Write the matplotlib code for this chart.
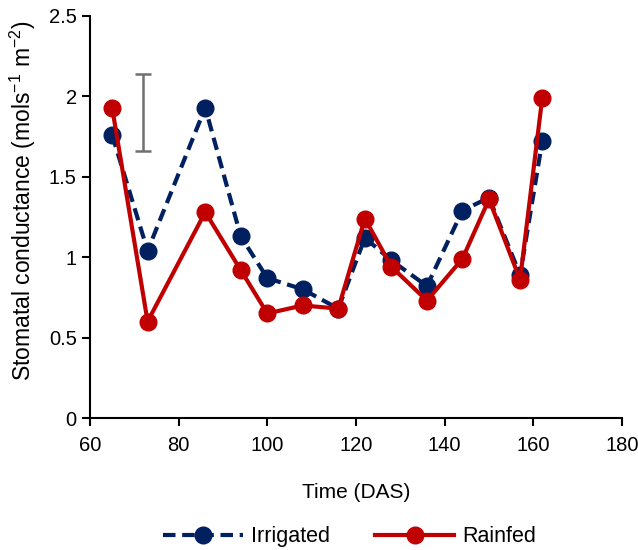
import matplotlib
matplotlib.use("Agg")
import matplotlib.pyplot as plt

plt.rcParams['font.family'] = ['Liberation Sans', 'DejaVu Sans']
plt.rcParams['mathtext.fontset'] = 'custom'
plt.rcParams['mathtext.rm'] = 'Liberation Sans'
plt.rcParams['mathtext.it'] = 'Liberation Sans:italic'

das = [65, 73, 86, 94, 100, 108, 116, 122, 128, 136, 144, 150, 157, 162]
irrigated = [1.76, 1.04, 1.93, 1.13, 0.87, 0.80, 0.68, 1.12, 0.98, 0.82, 1.29, 1.37, 0.89, 1.72]
rainfed = [1.93, 0.60, 1.28, 0.92, 0.65, 0.70, 0.68, 1.24, 0.94, 0.73, 0.99, 1.36, 0.86, 1.99]
err_x = 72
err_y = 1.90
err_half = 0.24

fig = plt.figure(figsize=(6.38, 5.5), dpi=100)
ax = fig.add_axes([0.141, 0.24, 0.834, 0.731])

navy = '#002060'
red = '#C00000'

ax.plot(das, irrigated, color=navy, lw=3, ls=(0, (3, 1.6)), marker='o', ms=12,
        label='Irrigated', zorder=3)
ax.plot(das, rainfed, color=red, lw=3, ls='-', marker='o', ms=12,
        label='Rainfed', zorder=4)
ax.errorbar([err_x], [err_y], yerr=[err_half], fmt='none', ecolor='#707070',
            elinewidth=1.8, capsize=6, capthick=1.8, zorder=2)

ax.set_xlim(60, 180)
ax.set_ylim(0, 2.5)
ax.set_xticks([60, 80, 100, 120, 140, 160, 180])
ax.set_yticks([0, 0.5, 1, 1.5, 2, 2.5])
ax.set_yticklabels(['0', '0.5', '1', '1.5', '2', '2.5'])
ax.spines['top'].set_visible(False)
ax.spines['right'].set_visible(False)
for s in ['left', 'bottom']:
    ax.spines[s].set_linewidth(1.5)
ax.tick_params(direction='out', length=6, width=1.5, labelsize=14.5)
ax.tick_params(axis='x', pad=7)
ax.set_xlabel('Time (DAS)', fontsize=15, labelpad=20)
ax.set_ylabel('Stomatal conductance (mols$^{\u22121}$ m$^{\u22122}$)', fontsize=16.5)
ax.yaxis.set_label_coords(-0.097, 0.54)

fig.legend(loc='center', bbox_to_anchor=(0.548, 0.024), ncol=2, frameon=False,
           fontsize=15.5, handlelength=3.7, handletextpad=0.35, columnspacing=2.1)

fig.savefig('out.png', dpi=100)
